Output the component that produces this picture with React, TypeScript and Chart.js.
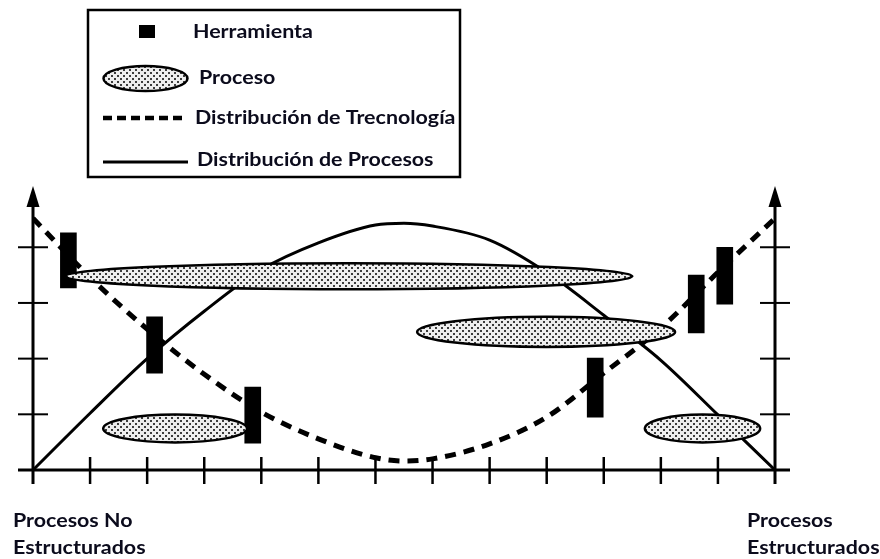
import React, { useEffect, useRef } from 'react';
import { Chart, registerables } from 'chart.js';

Chart.register(...registerables);

// ---- data (in chart units) ----
const procesosX = [0, 1, 2, 3, 4, 5, 6, 6.5, 7, 8, 9, 10, 11, 12, 13];
const procesosDist = [0, 1.02, 2.0, 2.85, 3.6, 4.08, 4.4, 4.43, 4.38, 4.13, 3.55, 2.78, 1.97, 0.99, 0];
const tecnologiaX = [0, 1, 2, 3, 4, 5, 6, 6.5, 7, 8, 9, 10, 11, 12, 13];
const tecnologiaDist = [4.52, 3.46, 2.53, 1.72, 1.04, 0.56, 0.22, 0.16, 0.2, 0.47, 0.95, 1.74, 2.55, 3.55, 4.52];

const herramientaX = [0.62, 2.13, 3.85, 9.85, 11.62, 12.12];
const herramientaLow = [3.27, 1.74, 0.48, 0.95, 2.46, 2.98];
const herramientaHigh = [4.26, 2.75, 1.49, 2.01, 3.5, 4.0];

const procesoX = [5.53, 8.99, 2.49, 11.73];
const procesoY = [3.48, 2.48, 0.745, 0.745];
const procesoHalfW = [4.97, 2.26, 1.26, 1.01];
const procesoHalfH = [0.235, 0.27, 0.25, 0.25];

const xTicks = [1, 2, 3, 4, 5, 6, 7, 8, 9, 10, 11, 12];
const yTicks = [1, 2, 3, 4];
const X_MIN = 0;
const X_MAX = 13;
const Y_MAX = 5.1;

const legendLabels = ['Herramienta', 'Proceso', 'Distribución de Trecnología', 'Distribución de Procesos'];
const leftLabel = ['Procesos No', 'Estructurados'];
const rightLabel = ['Procesos', 'Estructurados'];

const TEXT_COLOR = '#0b0b1c';
const FONT = 'bold 18px Lato, "Open Sans", sans-serif';
const TEXT_STRETCH = 1.19;

function makePattern(ctx: CanvasRenderingContext2D) {
  const c = document.createElement('canvas');
  c.width = 6;
  c.height = 6;
  const p = c.getContext('2d')!;
  p.fillStyle = '#eeeeee';
  p.fillRect(0, 0, 6, 6);
  p.fillStyle = '#3c3c3c';
  p.fillRect(0, 0, 2, 2);
  p.fillRect(3, 3, 2, 2);
  return ctx.createPattern(c, 'repeat')!;
}

function drawEllipse(ctx: CanvasRenderingContext2D, cx: number, cy: number, rx: number, ry: number) {
  ctx.save();
  ctx.beginPath();
  ctx.ellipse(cx, cy, rx, ry, 0, 0, Math.PI * 2);
  ctx.fillStyle = makePattern(ctx);
  ctx.fill();
  ctx.lineWidth = 2.5;
  ctx.strokeStyle = '#000';
  ctx.stroke();
  ctx.restore();
}

function drawText(ctx: CanvasRenderingContext2D, t: string, x: number, y: number) {
  ctx.save();
  ctx.translate(x, y);
  ctx.scale(TEXT_STRETCH, 1);
  ctx.fillText(t, 0, 0);
  ctx.restore();
}

const diagramPlugin = {
  id: 'diagram',
  beforeDatasetsDraw(chart: any) {
    const { ctx } = chart;
    const xs = chart.scales.x;
    const ys = chart.scales.y;
    const xl = xs.getPixelForValue(X_MIN);
    const xr = xs.getPixelForValue(X_MAX);
    const yb = ys.getPixelForValue(0);
    const yt = ys.getPixelForValue(Y_MAX);
    ctx.save();
    ctx.strokeStyle = '#000';
    ctx.fillStyle = '#000';
    ctx.lineCap = 'butt';
    const line = (a: number, b: number, c: number, d: number, w: number) => {
      ctx.lineWidth = w;
      ctx.beginPath();
      ctx.moveTo(a, b);
      ctx.lineTo(c, d);
      ctx.stroke();
    };
    line(xl - 15, yb, xr + 15, yb, 3);
    for (const px of [xl, xr]) {
      line(px, yb + 14, px, yt + 18, 3);
      ctx.beginPath();
      ctx.moveTo(px, yt);
      ctx.lineTo(px - 6.5, yt + 21);
      ctx.lineTo(px + 6.5, yt + 21);
      ctx.closePath();
      ctx.fill();
      for (const t of yTicks) {
        const py = ys.getPixelForValue(t);
        line(px - 15, py, px + 15, py, 2);
      }
    }
    for (const t of xTicks) {
      const px = xs.getPixelForValue(t);
      line(px, yb - 13, px, yb + 14, 2.5);
    }
    ctx.restore();
  },
  afterDatasetsDraw(chart: any) {
    const { ctx } = chart;
    const xs = chart.scales.x;
    const ys = chart.scales.y;
    for (let i = 0; i < procesoX.length; i++) {
      const cx = xs.getPixelForValue(procesoX[i]);
      const cy = ys.getPixelForValue(procesoY[i]);
      const rx = Math.abs(xs.getPixelForValue(procesoX[i] + procesoHalfW[i]) - cx);
      const ry = Math.abs(ys.getPixelForValue(procesoY[i] + procesoHalfH[i]) - cy);
      drawEllipse(ctx, cx, cy, rx, ry);
    }
    ctx.save();
    ctx.fillStyle = '#fff';
    ctx.fillRect(88, 10, 372, 167);
    ctx.strokeStyle = '#000';
    ctx.lineWidth = 2.5;
    ctx.strokeRect(88, 10, 372, 167);
    ctx.fillStyle = '#000';
    ctx.fillRect(139, 25, 16, 13);
    drawEllipse(ctx, 145.5, 78.5, 42, 12.5);
    ctx.strokeStyle = '#000';
    ctx.lineWidth = 4.5;
    ctx.setLineDash([9, 5]);
    ctx.beginPath();
    ctx.moveTo(103, 118);
    ctx.lineTo(182, 118);
    ctx.stroke();
    ctx.setLineDash([]);
    ctx.lineWidth = 3;
    ctx.beginPath();
    ctx.moveTo(103, 162);
    ctx.lineTo(188, 162);
    ctx.stroke();
    ctx.fillStyle = TEXT_COLOR;
    ctx.font = FONT;
    ctx.textBaseline = 'alphabetic';
    ctx.textAlign = 'left';
    const lx = [193, 199, 195, 197];
    const ly = [38, 84, 124, 166];
    legendLabels.forEach((t, i) => drawText(ctx, t, lx[i], ly[i]));
    leftLabel.forEach((t, i) => drawText(ctx, t, 13, 527 + i * 27));
    rightLabel.forEach((t, i) => drawText(ctx, t, 747, 527 + i * 27));
    ctx.restore();
  },
};

export default function App() {
  const ref = useRef<HTMLCanvasElement>(null);
  useEffect(() => {
    document.body.style.margin = '0';
    const canvas = ref.current!;
    const chart = new Chart(canvas, {
      type: 'line',
      data: {
        datasets: [
          {
            type: 'line',
            label: legendLabels[3],
            data: procesosX.map((x, i) => ({ x, y: procesosDist[i] })),
            borderColor: '#000',
            borderWidth: 3,
            pointRadius: 0,
            cubicInterpolationMode: 'monotone',
            fill: false,
          },
          {
            type: 'line',
            label: legendLabels[2],
            data: tecnologiaX.map((x, i) => ({ x, y: tecnologiaDist[i] })),
            borderColor: '#000',
            borderWidth: 5,
            borderDash: [11, 8],
            pointRadius: 0,
            cubicInterpolationMode: 'monotone',
            fill: false,
          },
          {
            type: 'bar',
            label: legendLabels[0],
            data: herramientaX.map((x, i) => ({ x, y: [herramientaLow[i], herramientaHigh[i]] })) as any,
            backgroundColor: '#000',
            borderColor: '#000',
            borderWidth: 0,
            barThickness: 16,
          } as any,
        ],
      },
      options: {
        animation: false,
        responsive: false,
        maintainAspectRatio: false,
        layout: { padding: { left: 33, right: 105, top: 186, bottom: 89 } },
        scales: {
          x: { type: 'linear', min: X_MIN, max: X_MAX, offset: false, display: false },
          y: { type: 'linear', min: 0, max: Y_MAX, display: false },
        },
        plugins: {
          legend: { display: false },
          tooltip: { enabled: false },
        },
      },
      plugins: [diagramPlugin],
    });
    return () => chart.destroy();
  }, []);
  return (
    <div style={{ width: 880, height: 559, background: '#fff' }}>
      <canvas ref={ref} width={880} height={559} />
    </div>
  );
}
